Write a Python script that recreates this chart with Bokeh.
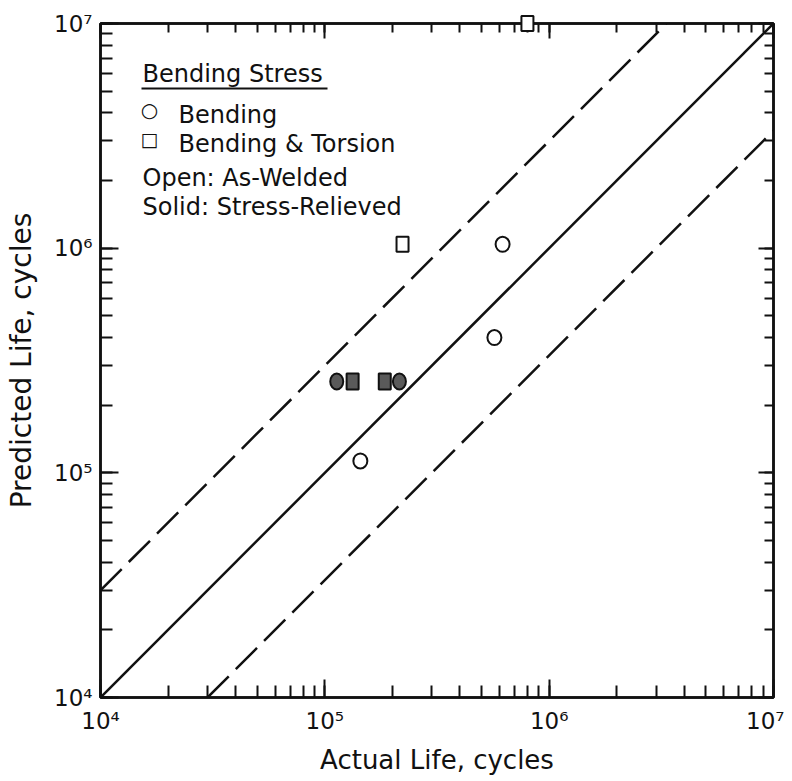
from bokeh.plotting import figure
from bokeh.models import Range1d, LogAxis, LogTicker, Label, BoxAnnotation
from bokeh.embed import file_html
from bokeh.resources import INLINE

# ---- data ----
axis_min = 1e4
axis_max = 1e7
band_factor = 3.0
decades = [4, 5, 6, 7]
superscripts = {4: "\u2074", 5: "\u2075", 6: "\u2076", 7: "\u2077"}
x_title = "Actual Life, cycles"
y_title = "Predicted Life, cycles"

# Bending, as-welded (open circles)
bend_aw_actual = [6.2e5, 5.7e5, 1.44e5]
bend_aw_pred = [1.04e6, 4.0e5, 1.13e5]
# Bending & torsion, as-welded (open squares)
bt_aw_actual = [2.22e5, 8.0e5]
bt_aw_pred = [1.04e6, 1.0e7]
# Bending, stress-relieved (solid circles)
bend_sr_actual = [1.13e5, 2.15e5]
bend_sr_pred = [2.55e5, 2.55e5]
# Bending & torsion, stress-relieved (solid squares)
bt_sr_actual = [1.33e5, 1.85e5]
bt_sr_pred = [2.55e5, 2.55e5]

FONT = "DejaVu Sans"
INK = "#111111"
GRAY = "#5a5a5a"

p = figure(frame_width=673, frame_height=674, x_axis_type="log", y_axis_type="log",
           x_range=Range1d(axis_min, axis_max), y_range=Range1d(axis_min, axis_max),
           output_backend="svg", toolbar_location=None,
           min_border_left=100, min_border_right=11, min_border_top=23, min_border_bottom=76,
           background_fill_color="white", border_fill_color="white")
p.grid.visible = False
p.outline_line_color = INK
p.outline_line_width = 2.5

overrides = {10 ** e: "10" + superscripts[e] for e in decades}
blank = {10 ** e: "" for e in decades}


def style_axis(ax, major_in, minor_in, labels):
    ax.ticker = LogTicker(num_minor_ticks=10)
    ax.axis_line_color = INK
    ax.axis_line_width = 2.5
    ax.major_tick_line_color = INK
    ax.major_tick_line_width = 2
    ax.minor_tick_line_color = INK
    ax.minor_tick_line_width = 2
    ax.major_tick_in = major_in
    ax.major_tick_out = 0
    ax.minor_tick_in = minor_in
    ax.minor_tick_out = 0
    if labels:
        ax.major_label_overrides = overrides
        ax.major_label_text_font = FONT
        ax.major_label_text_font_size = "23px"
        ax.major_label_text_color = INK
        ax.major_label_standoff = 8
        ax.axis_label_text_font = FONT
        ax.axis_label_text_font_size = "26px"
        ax.axis_label_text_font_style = "normal"
        ax.axis_label_text_color = INK
    else:
        ax.major_label_overrides = blank
        ax.major_label_text_font_size = "2px"
        ax.major_label_text_alpha = 0
        ax.major_label_standoff = 0


xa = p.xaxis[0]
ya = p.yaxis[0]
style_axis(xa, 18, 12, True)
style_axis(ya, 18, 12, True)
xa.major_label_standoff = 10
xa.axis_label = x_title
xa.axis_label_standoff = 8
ya.axis_label = y_title
ya.axis_label_text_font_size = "28px"
ya.axis_label_standoff = 13

top_ax = LogAxis()
right_ax = LogAxis()
style_axis(top_ax, 15, 9, False)
style_axis(right_ax, 15, 9, False)
p.add_layout(top_ax, "above")
p.add_layout(right_ax, "right")

# ---- reference lines ----
p.line([axis_min, axis_max], [axis_min, axis_max], line_color=INK, line_width=2.5)
p.line([axis_min, axis_max / band_factor], [axis_min * band_factor, axis_max],
       line_color=INK, line_width=2.5, line_dash="30 10")
p.line([axis_min * band_factor, axis_max], [axis_min, axis_max / band_factor],
       line_color=INK, line_width=2.5, line_dash="30 10")

# ---- data markers ----
r1 = p.ellipse(x=bend_aw_actual, y=bend_aw_pred, width=14, height=15,
               width_units="screen", height_units="screen",
               fill_color="white", line_color=INK, line_width=2)
r2 = p.rect(x=bt_aw_actual, y=bt_aw_pred, width=12, height=15,
            width_units="screen", height_units="screen",
            fill_color="white", line_color=INK, line_width=2)
r3 = p.ellipse(x=bend_sr_actual, y=bend_sr_pred, width=13, height=16,
               width_units="screen", height_units="screen",
               fill_color=GRAY, line_color=INK, line_width=2)
r4 = p.rect(x=bt_sr_actual, y=bt_sr_pred, width=12, height=16,
            width_units="screen", height_units="screen",
            fill_color=GRAY, line_color=INK, line_width=2)
for r in (r1, r2, r3, r4):
    r.level = "overlay"

# ---- legend block (screen units, relative to frame bottom-left) ----
def add_label(x, y, text, align="left", baseline="alphabetic", size="24px", style="normal"):
    p.add_layout(Label(x=x, y=y, x_units="screen", y_units="screen", text=text,
                       text_font=FONT, text_font_size=size, text_color=INK,
                       text_font_style=style, text_align=align, text_baseline=baseline))

add_label(42, 624, "Bending Stress")
p.add_layout(BoxAnnotation(left=41, right=227, bottom=608, top=610,
                           left_units="screen", right_units="screen",
                           bottom_units="screen", top_units="screen",
                           fill_color=INK, fill_alpha=1, line_color=None))
add_label(49, 588, "\u25CB", align="center", baseline="middle", size="20px", style="bold")
add_label(78, 583, "Bending")
add_label(49, 559, "\u25A1", align="center", baseline="middle", size="19px", style="bold")
add_label(78, 554, "Bending & Torsion")
add_label(42, 520, "Open: As-Welded")
add_label(42, 491, "Solid: Stress-Relieved")

open("out.html", "w").write(file_html(p, INLINE))
